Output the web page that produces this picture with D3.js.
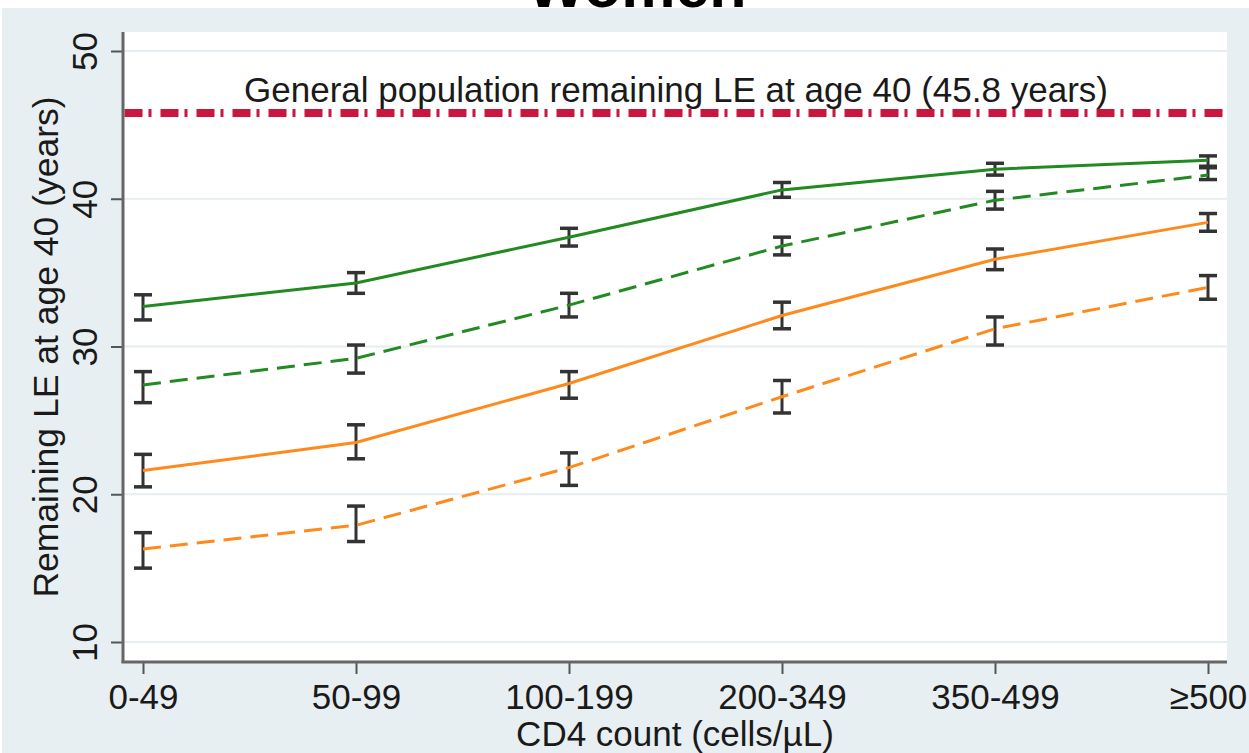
<!DOCTYPE html>
<html>
<head>
<meta charset="utf-8">
<script src="https://cdn.jsdelivr.net/npm/d3@7"></script>
<style>
  html, body { margin: 0; padding: 0; background: #ffffff; }
  svg { display: block; }
  text { font-family: "Liberation Sans", Arial, sans-serif; fill: #1a1a1a; }
</style>
</head>
<body>
<svg id="chart" width="1249" height="753"></svg>
<script>
// CD4 count strata at ART start
const categories = ["0-49", "50-99", "100-199", "200-349", "350-499", "\u2265500"];

// Remaining life expectancy at age 40 (years), with 95% CI bounds
const greenSolid    = [32.7, 34.3, 37.4, 40.6, 42.0, 42.6];
const greenSolidLo  = [31.8, 33.6, 36.8, 40.1, 41.6, 42.1];
const greenSolidHi  = [33.5, 35.0, 38.0, 41.1, 42.4, 42.9];

const greenDashed   = [27.4, 29.2, 32.8, 36.8, 39.9, 41.6];
const greenDashedLo = [26.2, 28.2, 32.0, 36.2, 39.3, 41.3];
const greenDashedHi = [28.3, 30.1, 33.6, 37.4, 40.5, 42.2];

const orangeSolid   = [21.6, 23.5, 27.5, 32.1, 35.9, 38.4];
const orangeSolidLo = [20.5, 22.4, 26.5, 31.2, 35.2, 37.8];
const orangeSolidHi = [22.7, 24.7, 28.3, 33.0, 36.6, 39.0];

const orangeDashed   = [16.3, 17.9, 21.8, 26.6, 31.2, 34.0];
const orangeDashedLo = [15.0, 16.8, 20.6, 25.5, 30.1, 33.2];
const orangeDashedHi = [17.4, 19.2, 22.8, 27.7, 32.0, 34.8];

const yTicks = [10, 20, 30, 40, 50];
const generalPopulationLE = 45.8;

const series = [
  { mid: greenSolid,   lo: greenSolidLo,   hi: greenSolidHi,   color: "#218a21", dash: null },
  { mid: greenDashed,  lo: greenDashedLo,  hi: greenDashedHi,  color: "#218a21", dash: "18,9" },
  { mid: orangeSolid,  lo: orangeSolidLo,  hi: orangeSolidHi,  color: "#ff8a1c", dash: null },
  { mid: orangeDashed, lo: orangeDashedLo, hi: orangeDashedHi, color: "#ff8a1c", dash: "18,9" }
];

const svg = d3.select("#chart");
const W = 1249, H = 753;

// Layout
const panel = { x: 2, y: 8 };
const plot = { left: 123, right: 1227, top: 32, bottom: 662 };

// Outer panel background
svg.append("rect").attr("x", panel.x).attr("y", panel.y)
  .attr("width", W - panel.x).attr("height", H - panel.y)
  .attr("fill", "#e8eff2");

// Title (sits partly above the canvas)
svg.append("text").attr("x", 637).attr("y", 7)
  .attr("text-anchor", "middle")
  .style("font-size", "61px").style("font-weight", "bold").style("fill", "#000")
  .text("Women");

// Plot region
svg.append("rect").attr("x", plot.left).attr("y", plot.top)
  .attr("width", plot.right - plot.left).attr("height", plot.bottom - plot.top)
  .attr("fill", "#ffffff");

const x = d3.scalePoint().domain(categories).range([143, 1208]);
const y = d3.scaleLinear().domain([10, 50]).range([642, 51]);

// Horizontal gridlines
svg.append("g").selectAll("line").data(yTicks).join("line")
  .attr("x1", plot.left).attr("x2", plot.right)
  .attr("y1", d => y(d)).attr("y2", d => y(d))
  .attr("stroke", "#e6eef1").attr("stroke-width", 2);

// Y axis
const yAxis = svg.append("g").attr("transform", `translate(${plot.left},0)`)
  .call(d3.axisLeft(y).tickValues(yTicks).tickSize(12).tickPadding(0).tickFormat(d3.format("d")));
yAxis.select(".domain").remove();
yAxis.selectAll(".tick line").attr("stroke", "#555").attr("stroke-width", 2);
yAxis.selectAll(".tick text")
  .attr("x", null).attr("dy", null)
  .attr("transform", "translate(-26,0) rotate(-90)")
  .attr("text-anchor", "middle")
  .style("font-size", "35px").style("fill", "#1a1a1a")
  .attr("font-family", null);
svg.append("line").attr("x1", plot.left).attr("x2", plot.left)
  .attr("y1", plot.top).attr("y2", plot.bottom + 1)
  .attr("stroke", "#666").attr("stroke-width", 3);

// X axis
const xAxis = svg.append("g").attr("transform", `translate(0,${plot.bottom})`)
  .call(d3.axisBottom(x).tickSize(12).tickPadding(0));
xAxis.select(".domain").remove();
xAxis.selectAll(".tick line").attr("stroke", "#555").attr("stroke-width", 2);
xAxis.selectAll(".tick text")
  .attr("dy", null).attr("y", 47)
  .style("font-size", "35px").style("fill", "#1a1a1a")
  .attr("font-family", null);
svg.append("line").attr("x1", plot.left - 1.5).attr("x2", plot.right)
  .attr("y1", plot.bottom).attr("y2", plot.bottom)
  .attr("stroke", "#666").attr("stroke-width", 3);

// Axis titles
svg.append("text")
  .attr("transform", `translate(58,${(plot.top + plot.bottom) / 2}) rotate(-90)`)
  .attr("text-anchor", "middle")
  .style("font-size", "35.5px")
  .text("Remaining LE at age 40 (years)");
svg.append("text").attr("x", 675).attr("y", 746)
  .attr("text-anchor", "middle")
  .style("font-size", "35px")
  .text("CD4 count (cells/\u00b5L)");

// General population reference line
svg.append("line")
  .attr("x1", plot.left + 1.5).attr("x2", plot.right)
  .attr("y1", y(generalPopulationLE)).attr("y2", y(generalPopulationLE))
  .attr("stroke", "#c9163f").attr("stroke-width", 8)
  .attr("stroke-dasharray", "18,6,3,9");
svg.append("text").attr("x", 676).attr("y", y(generalPopulationLE) - 11)
  .attr("text-anchor", "middle")
  .style("font-size", "35px")
  .text(`General population remaining LE at age 40 (${generalPopulationLE} years)`);

// Confidence interval bars
const capW = 9;
series.forEach(s => {
  const g = svg.append("g");
  const idx = d3.range(categories.length);
  g.selectAll("line.v").data(idx).join("line").attr("class", "v")
    .attr("x1", i => x(categories[i])).attr("x2", i => x(categories[i]))
    .attr("y1", i => y(s.lo[i])).attr("y2", i => y(s.hi[i]))
    .attr("stroke", "#333").attr("stroke-width", 3);
  [s.lo, s.hi].forEach(arr => {
    g.selectAll(null).data(idx).join("line")
      .attr("x1", i => x(categories[i]) - capW).attr("x2", i => x(categories[i]) + capW)
      .attr("y1", i => y(arr[i])).attr("y2", i => y(arr[i]))
      .attr("stroke", "#333").attr("stroke-width", 3.5);
  });
});

// Series lines
const line = d3.line().x((d, i) => x(categories[i])).y(d => y(d));
series.forEach(s => {
  svg.append("path").datum(s.mid)
    .attr("d", line)
    .attr("fill", "none")
    .attr("stroke", s.color).attr("stroke-width", 3)
    .attr("stroke-dasharray", s.dash);
});
</script>
</body>
</html>
